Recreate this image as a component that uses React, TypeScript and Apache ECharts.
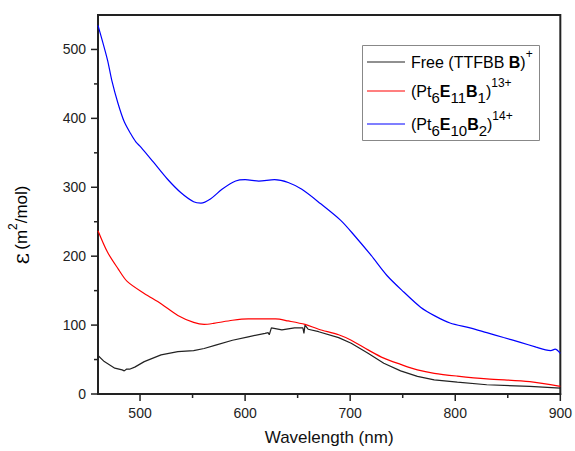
import React, { useEffect, useRef } from "react";
import * as echarts from "echarts";

const blueX = [460, 469, 473, 479, 485, 491, 496, 501, 513, 526, 539, 551, 558, 567, 578, 591, 600, 613, 628, 641, 654, 672, 691, 704, 720, 735, 751, 767, 781, 795, 814, 830, 846, 862, 877, 886, 891, 895, 900];
const blueY = [535, 485, 456, 422, 395, 378, 366, 358, 336, 312, 292, 279, 277, 283, 297, 309, 311, 309, 311, 307, 297, 276, 252, 230, 201, 172, 148, 126, 113, 103, 96, 89, 82, 75, 68, 64, 63, 65, 59];

const redX = [460, 469, 479, 488, 504, 520, 536, 551, 561, 570, 588, 603, 629, 641, 657, 670, 689, 701, 717, 732, 748, 764, 780, 802, 830, 871, 900];
const redY = [237, 206, 182, 163, 146, 131, 114, 104, 101, 102.5, 107, 109, 109, 106, 101, 94, 86, 78, 64, 52, 43, 35, 30, 26, 22, 18, 11];

const blackX = [460, 466, 476, 483, 485, 487, 490, 495, 504, 520, 536, 551, 561, 572, 588, 603, 619, 622, 623, 625, 635, 647, 655, 656, 657, 660, 670, 689, 701, 717, 732, 748, 764, 780, 802, 830, 871, 900];
const blackY = [55.8, 47, 37.5, 35, 33.6, 36, 36, 39, 47, 56.7, 61.6, 63, 66, 71, 78, 83, 88, 89, 86, 96, 93, 96, 96, 88, 100, 94, 90.4, 81.8, 73.6, 59, 44.7, 33.6, 25.5, 20.6, 17.3, 13.4, 11, 8.6];

const xMajor = [500, 600, 700, 800, 900];
const xMinor = [550, 650, 750, 850];
const yMajor = [0, 100, 200, 300, 400, 500];
const yMinor = [50, 150, 250, 350, 450];

const seriesNames = ["Free (TTFBB B)+", "(Pt6E11B1)13+", "(Pt6E10B2)14+"];

const pairs = (xs: number[], ys: number[]) => xs.map((x, i) => [x, ys[i]]);

const FONT = "Liberation Sans, Arial, sans-serif";
const AX = "#222";

export default function App() {
  const ref = useRef<HTMLDivElement>(null);
  useEffect(() => {
    const chart = echarts.init(ref.current!, null, { renderer: "svg" });
    const gridRect = { left: 98, right: 10, top: 15, bottom: 55 };
    const legRich = {
      n: { fontSize: 16, fontFamily: FONT, color: "#111", lineHeight: 28, verticalAlign: "middle" },
      b: { fontSize: 16, fontFamily: FONT, fontWeight: "bold", color: "#111", lineHeight: 28, verticalAlign: "middle" },
      sub: { fontSize: 15, fontFamily: FONT, color: "#111", lineHeight: 15, verticalAlign: "bottom" },
      sup: { fontSize: 12, fontFamily: FONT, color: "#111", lineHeight: 12, verticalAlign: "top" },
    };
    const legendItems = [
      { y: 62, color: "#222", text: "{n|Free (TTFBB }{b|B}{n|)}{sup|+}" },
      { y: 91, color: "#ff0000", text: "{n|(Pt}{sub|6}{b|E}{sub|11}{b|B}{sub|1}{n|)}{sup|13+}" },
      { y: 124, color: "#0000ff", text: "{n|(Pt}{sub|6}{b|E}{sub|10}{b|B}{sub|2}{n|)}{sup|14+}" },
    ];
    const graphics: any[] = [
      {
        id: "legbox",
        type: "rect",
        shape: { x: 362.5, y: 45.5, width: 177, height: 95 },
        style: { fill: "#fff", stroke: "#888", lineWidth: 1 },
        z: 100,
      },
    ];
    legendItems.forEach((it, i) => {
      graphics.push({
        id: "legline" + i,
        type: "line",
        shape: { x1: 367, y1: it.y, x2: 405, y2: it.y },
        style: { stroke: it.color, lineWidth: 1.2 },
        z: 101,
      });
      graphics.push({
        id: "legtext" + i,
        type: "text",
        x: 411,
        y: it.y,
        style: { text: it.text, rich: legRich, align: "left", verticalAlign: "middle" },
        z: 101,
      });
    });
    graphics.push({
      id: "ylabel",
      type: "text",
      x: 21,
      y: 225,
      rotation: Math.PI / 2,
      style: {
        text: "{e|ε} {n|(m}{s|2}{n|/mol)}",
        align: "center",
        verticalAlign: "middle",
        rich: {
          e: { fontSize: 22, fontFamily: "DejaVu Serif, serif", color: "#111", lineHeight: 28, verticalAlign: "middle" },
          n: { fontSize: 17, fontFamily: FONT, color: "#111", lineHeight: 28, verticalAlign: "middle" },
          s: { fontSize: 12, fontFamily: FONT, color: "#111", lineHeight: 12, verticalAlign: "top" },
        },
      },
    });

    chart.setOption({
      animation: false,
      backgroundColor: "#fff",
      grid: [
        { ...gridRect, show: true, borderColor: AX, borderWidth: 2, backgroundColor: "transparent" },
      ],
      xAxis: [
        {
          type: "value",
          gridIndex: 0,
          min: 460,
          max: 900,
          axisLine: { show: true, onZero: false, lineStyle: { color: AX, width: 2 } },
          axisTick: { show: false },
          axisLabel: { customValues: xMajor, fontSize: 14, color: AX, margin: 12, fontFamily: FONT },
          splitLine: { show: false },
          name: "Wavelength (nm)",
          nameLocation: "middle",
          nameGap: 35,
          nameTextStyle: { fontSize: 17, color: "#111", fontFamily: FONT },
        },
      ],
      yAxis: [
        {
          type: "value",
          gridIndex: 0,
          min: 0,
          max: 550,
          axisLine: { show: true, onZero: false, lineStyle: { color: AX, width: 2 } },
          axisTick: { show: false },
          axisLabel: { customValues: yMajor, fontSize: 14, color: AX, margin: 12, fontFamily: FONT },
          splitLine: { show: false },
        },
      ],
      series: [
        {
          name: seriesNames[0],
          type: "line",
          data: pairs(blackX, blackY),
          showSymbol: false,
          lineStyle: { color: "#222", width: 1.2 },
          itemStyle: { color: "#222" },
        },
        {
          name: seriesNames[1],
          type: "line",
          data: pairs(redX, redY),
          showSymbol: false,
          smooth: 0.3,
          lineStyle: { color: "#ff0000", width: 1.2 },
          itemStyle: { color: "#ff0000" },
        },
        {
          name: seriesNames[2],
          type: "line",
          data: pairs(blueX, blueY),
          showSymbol: false,
          smooth: 0.3,
          lineStyle: { color: "#0000ff", width: 1.2 },
          itemStyle: { color: "#0000ff" },
        },
      ],
      graphic: graphics,
    });

    // axis ticks placed through the chart's own scales
    const ticks: any[] = [];
    const tickStyle = { stroke: AX, lineWidth: 1.5 };
    const addX = (v: number, len: number, k: string) => {
      const p = chart.convertToPixel({ gridIndex: 0 }, [v, 0]) as number[];
      ticks.push({ id: k, type: "line", shape: { x1: p[0], y1: p[1], x2: p[0], y2: p[1] + len }, style: tickStyle, z: 50 });
    };
    const addY = (v: number, len: number, k: string) => {
      const p = chart.convertToPixel({ gridIndex: 0 }, [460, v]) as number[];
      ticks.push({ id: k, type: "line", shape: { x1: p[0], y1: p[1], x2: p[0] - len, y2: p[1] }, style: tickStyle, z: 50 });
    };
    xMajor.forEach((v) => addX(v, 7, "xM" + v));
    xMinor.forEach((v) => addX(v, 4, "xm" + v));
    yMajor.forEach((v) => addY(v, 7, "yM" + v));
    yMinor.forEach((v) => addY(v, 4, "ym" + v));
    chart.setOption({ graphic: [...graphics, ...ticks] });

    return () => chart.dispose();
  }, []);
  return <div ref={ref} style={{ position: "fixed", left: 0, top: 0, width: 575, height: 451 }} />;
}
